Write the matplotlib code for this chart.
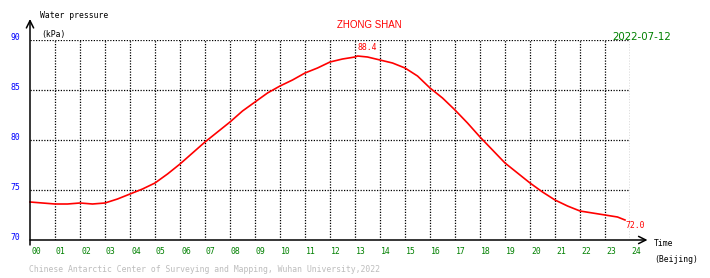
import matplotlib
matplotlib.use("Agg")
import matplotlib.pyplot as plt
import numpy as np

# ---- data ----
hours = [0, 0.5, 1, 1.5, 2, 2.5, 3, 3.5, 4, 4.5, 5, 5.5, 6, 6.5, 7, 7.5, 8, 8.5,
         9, 9.5, 10, 10.5, 11, 11.5, 12, 12.5, 13, 13.1, 13.5, 14, 14.5, 15, 15.5,
         16, 16.5, 17, 17.5, 18, 18.5, 19, 19.5, 20, 20.5, 21, 21.5, 22, 22.5,
         23, 23.5, 23.8]
pressure = [73.8, 73.7, 73.6, 73.6, 73.7, 73.6, 73.7, 74.1, 74.6, 75.1, 75.7,
            76.6, 77.6, 78.7, 79.8, 80.8, 81.8, 82.9, 83.8, 84.7, 85.4, 86.0,
            86.7, 87.2, 87.8, 88.1, 88.3, 88.4, 88.3, 88.0, 87.7, 87.2, 86.4,
            85.2, 84.2, 83.0, 81.7, 80.3, 79.0, 77.7, 76.7, 75.7, 74.8, 74.0,
            73.4, 72.9, 72.7, 72.5, 72.3, 72.0]
x_ticks = list(range(25))
x_tick_labels = ["%02d" % h for h in x_ticks]
y_ticks = [70, 75, 80, 85, 90]
y_tick_labels = ["70", "75", "80", "85", "90"]
title = "ZHONG SHAN"
date_label = "2022-07-12"
footer = "Chinese Antarctic Center of Surveying and Mapping, Wuhan University,2022"

W, H = 710, 278
fig = plt.figure(figsize=(W / 100, H / 100), dpi=100)
fig.patch.set_facecolor("white")

def fx(x):
    return x / W

def fy(y):
    return 1 - y / H

ax = fig.add_axes([fx(30), fy(240), 600 / W, 200 / H])
ax.set_xlim(0, 24)
ax.set_ylim(70, 90)
ax.axis("off")

mono = "DejaVu Sans Mono"
FS = 5.9
RED = "#ff0000"
GREEN = "#008000"
BLUE = "#0000ff"

# grid
dot = dict(color="black", lw=0.9, linestyle=(0, (1, 1.2)))
for h in x_ticks[1:]:
    ax.plot([h, h], [70, 90], **dot)
for v in y_ticks[1:]:
    ax.plot([0, 24], [v, v], **dot)

# axes with arrows
ax.annotate("", xy=(0, 92.1), xytext=(0, 69.5), xycoords="data",
            arrowprops=dict(arrowstyle="->", color="black", lw=1.1,
                            mutation_scale=13, shrinkA=0, shrinkB=0),
            annotation_clip=False)
ax.annotate("", xy=(24.7, 70), xytext=(0, 70), xycoords="data",
            arrowprops=dict(arrowstyle="->", color="black", lw=1.1,
                            mutation_scale=13, shrinkA=0, shrinkB=0),
            annotation_clip=False)

# data line
ax.plot(hours, pressure, color=RED, lw=1.2, clip_on=False)

# max / last labels
imax = int(np.argmax(pressure))
ax.text(hours[imax], pressure[imax] + 0.35, "%.1f" % pressure[imax], color=RED,
        fontsize=FS, family=mono, ha="left", va="bottom")
ax.text(hours[-1], pressure[-1] - 0.15, "%.1f" % pressure[-1], color=RED,
        fontsize=FS, family=mono, ha="left", va="top")

# tick labels
for h, lab in zip(x_ticks, x_tick_labels):
    ax.text(h + 0.04, 68.8, lab, color=GREEN, fontsize=FS, family=mono,
            ha="left", va="center", clip_on=False)
for v, lab in zip(y_ticks, y_tick_labels):
    ax.text(-0.4, v + 0.2, lab, color=BLUE, fontsize=FS, family=mono,
            ha="right", va="center", clip_on=False)

# texts
fig.text(fx(40), fy(16), "Water pressure", fontsize=FS, family=mono,
         ha="left", va="center")
fig.text(fx(41), fy(34), "(kPa)", fontsize=FS, family=mono,
         ha="left", va="center")
fig.text(fx(654), fy(244), "Time", fontsize=FS, family=mono,
         ha="left", va="center")
fig.text(fx(654), fy(260), "(Beijing)", fontsize=FS, family=mono,
         ha="left", va="center")
fig.text(fx(369), fy(25), title, fontsize=7.0, color=RED,
         family="Liberation Sans", ha="center", va="center")
fig.text(fx(612), fy(37), date_label, fontsize=7.4, color=GREEN,
         family="DejaVu Sans", ha="left", va="center")
fig.text(fx(29), fy(270), footer, fontsize=FS, color="#bdbdbd",
         family=mono, ha="left", va="center")

fig.savefig("out.png", dpi=100, facecolor="white")
